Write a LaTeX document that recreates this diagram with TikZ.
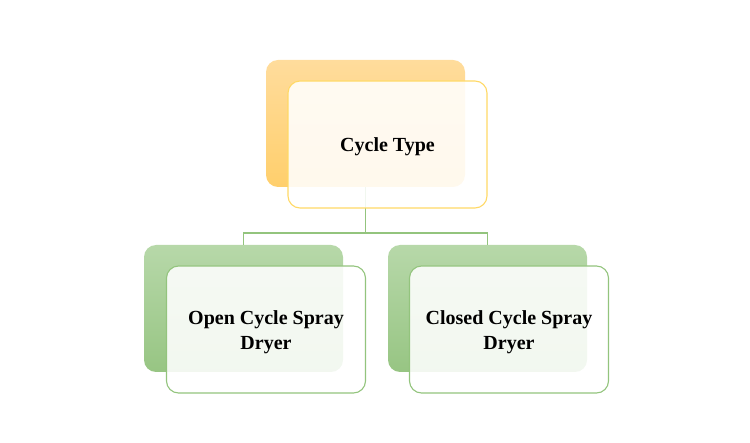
\documentclass[tikz,border=0pt]{standalone}
\usepackage{fontspec}
\setmainfont{Liberation Serif}
\definecolor{orTop}{HTML}{FFDC9C}
\definecolor{orBot}{HTML}{FFCF6C}
\definecolor{orLine}{HTML}{FFD966}
\definecolor{grTop}{HTML}{B7D8A9}
\definecolor{grBot}{HTML}{97C583}
\definecolor{grLine}{HTML}{93C47D}
\begin{document}
\begin{tikzpicture}[x=1pt,y=-1pt,
  backbox/.style={rectangle, rounded corners=12pt, minimum width=199pt, minimum height=127pt, inner sep=0pt, draw=none},
  frontbox/.style={rectangle, rounded corners=12pt, minimum width=199pt, minimum height=127pt, inner sep=0pt, line width=1.1pt, fill=white, fill opacity=0.88},
  boxtext/.style={align=center, font=\fontsize{20}{25}\selectfont\bfseries, inner sep=0pt},
  conn/.style={draw=grLine, line width=1.2pt}]
\useasboundingbox (0,0) rectangle (750,443);
\node[backbox, top color=orTop, bottom color=orBot] (tb) at (365.5,123.5) {};
\node[backbox, top color=grTop, bottom color=grBot] (lb) at (243.5,308.5) {};
\node[backbox, top color=grTop, bottom color=grBot] (rb) at (487.5,308.5) {};
\coordinate (mid) at (365.5,233);
\draw[conn] (tb.south) -- (mid);
\draw[conn] (mid) -| (lb.north);
\draw[conn] (mid) -| (rb.north);
\node[frontbox, draw=orLine] (tf) at (387.5,144.5) {};
\node[frontbox, draw=grLine] (lf) at (266,329.5) {};
\node[frontbox, draw=grLine] (rf) at (509,329.5) {};
\node[boxtext] (tt) at ([yshift=-2.5pt]tf.center) {Cycle Type};
\node[boxtext] (lt) at ([yshift=-2.5pt]lf.center) {Open Cycle Spray\\Dryer};
\node[boxtext] (rt) at ([yshift=-2.5pt]rf.center) {Closed Cycle Spray\\Dryer};
\end{tikzpicture}
\end{document}
